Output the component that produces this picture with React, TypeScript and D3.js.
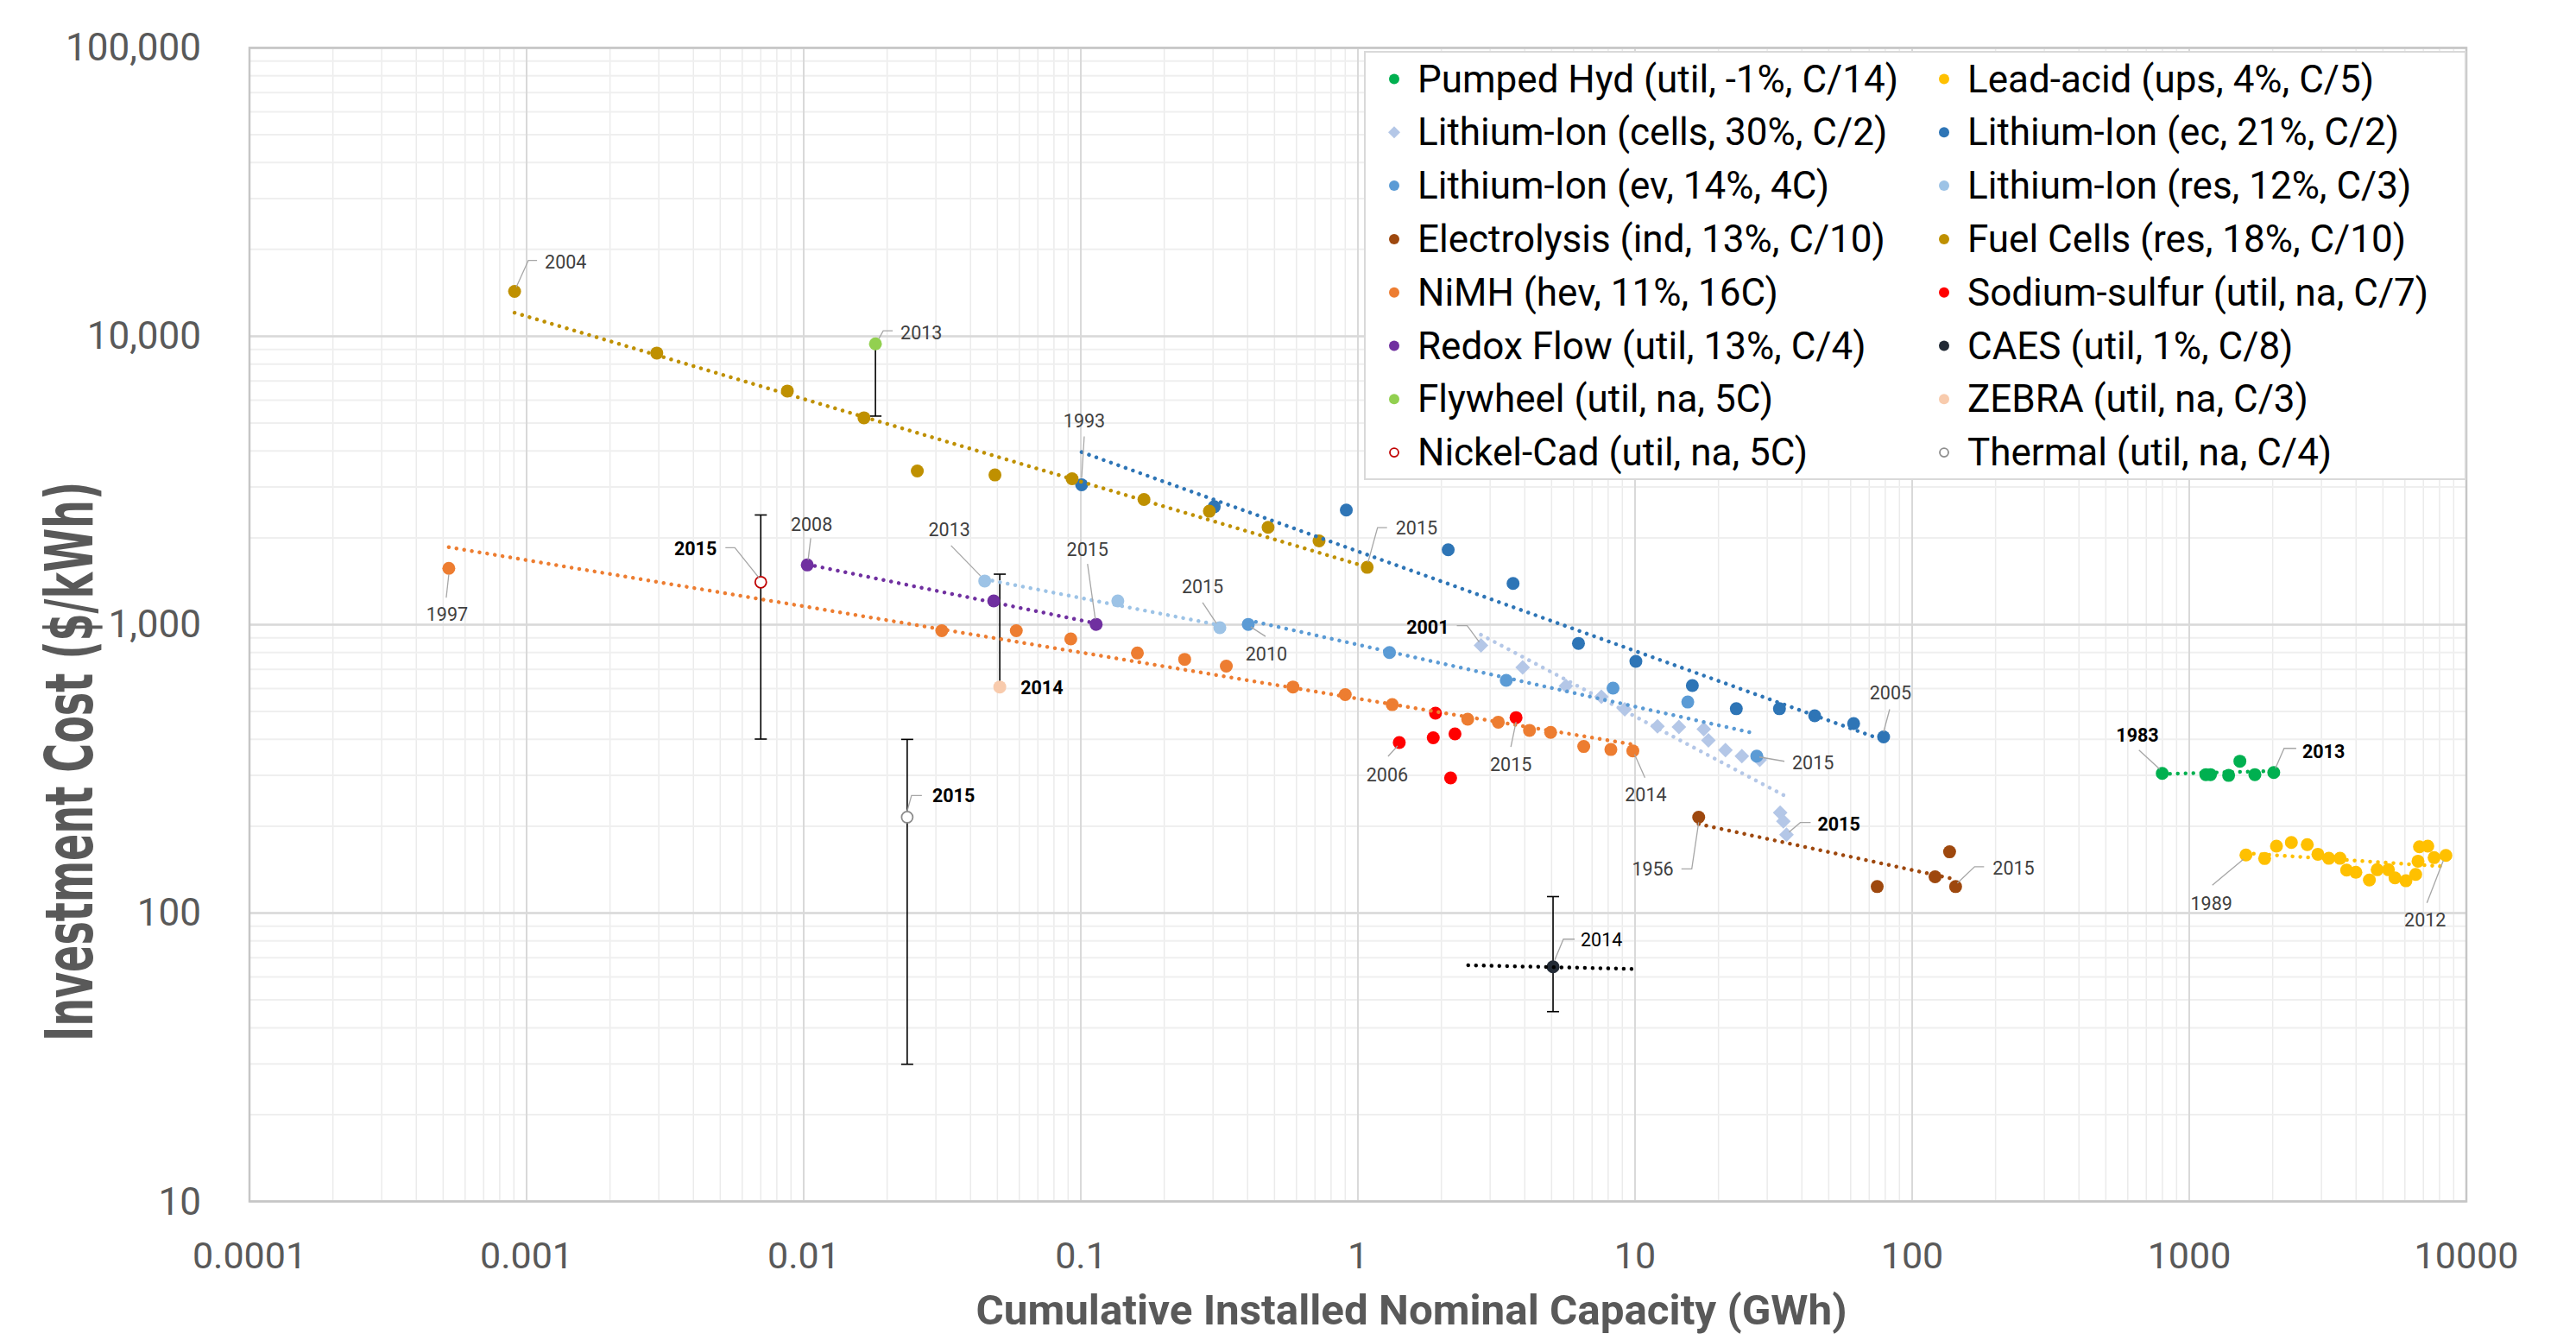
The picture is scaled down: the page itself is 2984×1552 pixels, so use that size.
import React from 'react';
import * as d3 from 'd3';

const width = 2984;
const height = 1552;
const plotLeft = 289;
const plotRight = 2857;
const plotTop = 55.4;
const plotBottom = 1391.5;

// axis ticks
const xTickValues = [0.0001, 0.001, 0.01, 0.1, 1, 10, 100, 1000, 10000];
const xTickLabels = ['0.0001', '0.001', '0.01', '0.1', '1', '10', '100', '1000', '10000'];
const yTickValues = [10, 100, 1000, 10000, 100000];
const yTickLabels = ['10', '100', '1,000', '10,000', '100,000'];

// series values: cumulative capacity (GWh) and cost ($/kWh)
const pumpedHydX = [799, 1148, 1193, 1387, 1523, 1725, 2018];
const pumpedHydY = [305, 302, 302, 300, 336, 302, 307];

const leadAcidX = [1602, 1871, 2064, 2336, 2666, 2912, 3189, 3500, 3698, 3993, 4467, 4766, 5233, 5526, 6053, 6564, 6691, 6773, 7257, 7650, 8436];
const leadAcidY = [159, 154.5, 170.6, 175.7, 172.6, 159.9, 154.8, 154.8, 140.9, 138.4, 130.1, 141.3, 141.3, 132.4, 129.4, 136.1, 151.3, 169.7, 170.6, 155.6, 158.4];

const liCellsX = [2.78, 3.93, 5.63, 7.56, 9.18, 12.05, 14.4, 17.7, 18.4, 21.2, 24.3, 28.2, 33.4, 34.3, 35.2];
const liCellsY = [847, 711, 613, 562, 509, 444, 442, 434, 397, 367, 350, 340, 223, 208, 187];

const liEcX = [0.1007, 0.303, 0.908, 2.117, 3.63, 6.25, 10.07, 16.1, 23.2, 33.2, 44.5, 61.5, 78.9];
const liEcY = [3055, 2564, 2496, 1817, 1390, 861, 746, 615, 511, 511, 483, 454, 408];

const liEvX = [0.402, 1.3, 3.43, 8.33, 15.5, 27.5];
const liEvY = [1002, 800, 641, 602, 539, 350];

const liResX = [0.045, 0.136, 0.3175];
const liResY = [1417, 1208, 976];

const electrolysisX = [16.97, 74.8, 121, 136.5, 143.5];
const electrolysisY = [215, 123.5, 133.6, 163, 123.5];

const fuelCellsX = [0.000905, 0.00295, 0.00873, 0.0165, 0.0257, 0.049, 0.093, 0.169, 0.291, 0.474, 0.724, 1.08];
const fuelCellsY = [14300, 8743, 6457, 5213, 3411, 3304, 3206, 2715, 2473, 2175, 1951, 1580];

const nimhX = [0.000524, 0.0315, 0.0585, 0.092, 0.16, 0.237, 0.335, 0.583, 0.9, 1.33, 2.49, 3.21, 4.16, 4.96, 6.53, 8.18, 9.82];
const nimhY = [1567, 953, 953, 892, 797, 758, 718, 608, 572, 528, 470, 459, 430, 423, 378, 369, 365];

const sodiumX = [1.41, 1.87, 1.905, 2.16, 2.24, 3.72];
const sodiumY = [390, 405, 493, 294, 418, 476];

const redoxX = [0.0103, 0.0485, 0.1136];
const redoxY = [1610, 1208, 1002];

const caesX = [5.06];
const caesY = [65.1];
const caesLow = [45.5];
const caesHigh = [114];
const caesTrendX = [2.5, 9.8];
const caesTrendY = [65.9, 64.0];

const flywheelX = [0.01815];
const flywheelY = [9414];
const flywheelLow = [5285];

const zebraX = [0.051];
const zebraY = [608];
const zebraHigh = [1496];

const nicadX = [0.007];
const nicadY = [1403];
const nicadLow = [401];
const nicadHigh = [2400];

const thermalX = [0.02363];
const thermalY = [215];
const thermalLow = [29.9];
const thermalHigh = [400];

type Series = {
  key: string;
  name: string;
  xs: number[];
  ys: number[];
  color: string;
  shape?: 'circle' | 'diamond' | 'open';
  trend?: boolean;
  low?: number[];
  high?: number[];
};

const series: Series[] = [
  { key: 'pumped', name: 'Pumped Hyd (util, -1%, C/14)', xs: pumpedHydX, ys: pumpedHydY, color: '#00B050', trend: true },
  { key: 'lead', name: 'Lead-acid (ups, 4%, C/5)', xs: leadAcidX, ys: leadAcidY, color: '#FFC000', trend: true },
  { key: 'cells', name: 'Lithium-Ion (cells, 30%, C/2)', xs: liCellsX, ys: liCellsY, color: '#B4C7E7', shape: 'diamond', trend: true },
  { key: 'ec', name: 'Lithium-Ion (ec, 21%, C/2)', xs: liEcX, ys: liEcY, color: '#2E75B6', trend: true },
  { key: 'ev', name: 'Lithium-Ion (ev, 14%, 4C)', xs: liEvX, ys: liEvY, color: '#5B9BD5', trend: true },
  { key: 'res', name: 'Lithium-Ion (res, 12%, C/3)', xs: liResX, ys: liResY, color: '#9DC3E6', trend: true },
  { key: 'elec', name: 'Electrolysis (ind, 13%, C/10)', xs: electrolysisX, ys: electrolysisY, color: '#9E480E', trend: true },
  { key: 'fuel', name: 'Fuel Cells (res, 18%, C/10)', xs: fuelCellsX, ys: fuelCellsY, color: '#BF9000', trend: true },
  { key: 'nimh', name: 'NiMH (hev, 11%, 16C)', xs: nimhX, ys: nimhY, color: '#ED7D31', trend: true },
  { key: 'nas', name: 'Sodium-sulfur (util, na, C/7)', xs: sodiumX, ys: sodiumY, color: '#FF0000' },
  { key: 'redox', name: 'Redox Flow (util, 13%, C/4)', xs: redoxX, ys: redoxY, color: '#7030A0', trend: true },
  { key: 'caes', name: 'CAES (util, 1%, C/8)', xs: caesX, ys: caesY, color: '#222A35', low: caesLow, high: caesHigh },
  { key: 'fly', name: 'Flywheel (util, na, 5C)', xs: flywheelX, ys: flywheelY, color: '#92D050', low: flywheelLow },
  { key: 'zebra', name: 'ZEBRA (util, na, C/3)', xs: zebraX, ys: zebraY, color: '#F8CBAD', high: zebraHigh },
  { key: 'nicad', name: 'Nickel-Cad (util, na, 5C)', xs: nicadX, ys: nicadY, color: '#C00000', shape: 'open', low: nicadLow, high: nicadHigh },
  { key: 'thermal', name: 'Thermal (util, na, C/4)', xs: thermalX, ys: thermalY, color: '#8C8C8C', shape: 'open', low: thermalLow, high: thermalHigh },
];

// data labels: point reference, text offset and leader line (pixels from the point)
const labels = [
  { s: 'fuel', i: 0, t: '2004', dx: 35, dy: -27, a: 'start', lead: [[2, -5], [16, -36], [26, -36]] },
  { s: 'fly', i: 0, t: '2013', dx: 29, dy: -5, a: 'start', lead: [[4, -6], [9, -15], [20, -15]] },
  { s: 'ec', i: 0, t: '1993', dx: 3, dy: -66, a: 'middle', lead: [[0, -8], [3, -56]] },
  { s: 'nimh', i: 0, t: '1997', dx: -2, dy: 61, a: 'middle', lead: [[0, 7], [-3, 34]] },
  { s: 'nicad', i: 0, t: '2015', dx: -51, dy: -31, a: 'end', bold: true, lead: [[-2, -5], [-30, -40], [-41, -40]] },
  { s: 'redox', i: 0, t: '2008', dx: 5, dy: -39, a: 'middle', lead: [[1, -6], [4, -31]] },
  { s: 'res', i: 0, t: '2013', dx: -41, dy: -52, a: 'middle', lead: [[-5, -6], [-39, -41]] },
  { s: 'redox', i: 2, t: '2015', dx: -10, dy: -79, a: 'middle', lead: [[-1, -6], [-10, -70]] },
  { s: 'res', i: 2, t: '2015', dx: -20, dy: -40, a: 'middle', lead: [[-4, -5], [-20, -29]] },
  { s: 'ev', i: 0, t: '2010', dx: 21, dy: 42, a: 'middle', lead: [[3, 3], [20, 14]] },
  { s: 'zebra', i: 0, t: '2014', dx: 24, dy: 8, a: 'start', bold: true, lead: [] },
  { s: 'thermal', i: 0, t: '2015', dx: 29, dy: -17, a: 'start', bold: true, lead: [[0, -7], [5, -25], [17, -25]] },
  { s: 'fuel', i: 11, t: '2015', dx: 33, dy: -38, a: 'start', lead: [[1, -6], [12, -46], [23, -46]] },
  { s: 'cells', i: 0, t: '2001', dx: -37, dy: -14, a: 'end', bold: true, lead: [[-2, -4], [-16, -23], [-28, -23]] },
  { s: 'nas', i: 0, t: '2006', dx: -14, dy: 45, a: 'middle', lead: [[-2, 4], [-13, 16]] },
  { s: 'nas', i: 5, t: '2015', dx: -6, dy: 62, a: 'middle', lead: [[0, 5], [-6, 34]] },
  { s: 'nimh', i: 16, t: '2014', dx: 15, dy: 58, a: 'middle', lead: [[2, 4], [14, 31]] },
  { s: 'elec', i: 0, t: '1956', dx: -29, dy: 68, a: 'end', lead: [[0, 6], [-8, 60], [-20, 60]] },
  { s: 'ev', i: 5, t: '2015', dx: 41, dy: 15, a: 'start', lead: [[3, 1], [32, 6]] },
  { s: 'cells', i: 14, t: '2015', dx: 36, dy: -5, a: 'start', bold: true, lead: [[3, -3], [16, -14], [28, -14]] },
  { s: 'ec', i: 12, t: '2005', dx: 8, dy: -43, a: 'middle', lead: [[0, -6], [7, -32]] },
  { s: 'elec', i: 4, t: '2015', dx: 43, dy: -14, a: 'start', lead: [[2, -4], [22, -23], [33, -23]] },
  { s: 'pumped', i: 0, t: '1983', dx: -4, dy: -37, a: 'end', bold: true, lead: [[-3, -5], [-27, -27]] },
  { s: 'pumped', i: 6, t: '2013', dx: 33, dy: -17, a: 'start', bold: true, lead: [[2, -5], [12, -28], [26, -28]] },
  { s: 'lead', i: 0, t: '1989', dx: -40, dy: 64, a: 'middle', lead: [[-3, 5], [-39, 35]] },
  { s: 'lead', i: 20, t: '2012', dx: -24, dy: 82, a: 'middle', lead: [[-3, 6], [-22, 55]] },
  { s: 'caes', i: 0, t: '2014', dx: 32, dy: -24, a: 'start', dark: true, lead: [[2, -8], [12, -32], [25, -32]] },
];

const x = d3.scaleLog().domain([1e-4, 1e4]).range([plotLeft, plotRight]);
const y = d3.scaleLog().domain([10, 1e5]).range([plotBottom, plotTop]);

// least squares in log-log space, like a power trendline
const fitPower = (xs: number[], ys: number[]) => {
  const lx = xs.map(Math.log10);
  const ly = ys.map(Math.log10);
  const mx = d3.mean(lx) as number;
  const my = d3.mean(ly) as number;
  let sxy = 0;
  let sxx = 0;
  lx.forEach((v, i) => {
    sxy += (v - mx) * (ly[i] - my);
    sxx += (v - mx) * (v - mx);
  });
  const b = sxy / sxx;
  const a = my - b * mx;
  const x0 = d3.min(xs) as number;
  const x1 = d3.max(xs) as number;
  return [
    [x0, Math.pow(10, a + b * Math.log10(x0))],
    [x1, Math.pow(10, a + b * Math.log10(x1))],
  ];
};

const line = d3
  .line<number[]>()
  .x((d) => x(d[0]))
  .y((d) => y(d[1]));

const font = 'Roboto, "Open Sans", sans-serif';

const Marker = ({ s, cx, cy, r }: { s: Series; cx: number; cy: number; r: number }) => {
  if (s.shape === 'diamond') {
    const d = r + 1;
    return <path d={`M${cx},${cy - d}L${cx + d},${cy}L${cx},${cy + d}L${cx - d},${cy}Z`} fill={s.color} />;
  }
  if (s.shape === 'open') {
    return <circle cx={cx} cy={cy} r={r - 1} fill="white" stroke={s.color} strokeWidth={1.8} />;
  }
  return <circle cx={cx} cy={cy} r={r} fill={s.color} />;
};

const App = () => {
  const xMinor = x.ticks();
  const yMinor = y.ticks();
  const byKey: Record<string, Series> = {};
  series.forEach((s) => (byKey[s.key] = s));

  return (
    <svg width={width} height={height} style={{ position: 'absolute', left: 0, top: 0, background: 'white' }}>
      <rect width={width} height={height} fill="white" />
      {/* grid */}
      <g>
        {xMinor.map((t, i) => (
          <line key={'xm' + i} x1={x(t)} x2={x(t)} y1={plotTop} y2={plotBottom} stroke="#EBEBEB" strokeWidth={1.5} />
        ))}
        {yMinor.map((t, i) => (
          <line key={'ym' + i} x1={plotLeft} x2={plotRight} y1={y(t)} y2={y(t)} stroke="#EFEFEF" strokeWidth={2} />
        ))}
        {xTickValues.map((t, i) => (
          <line key={'xM' + i} x1={x(t)} x2={x(t)} y1={plotTop} y2={plotBottom} stroke="#D9D9D9" strokeWidth={2} />
        ))}
        {yTickValues.map((t, i) => (
          <line key={'yM' + i} x1={plotLeft} x2={plotRight} y1={y(t)} y2={y(t)} stroke="#D9D9D9" strokeWidth={2.5} />
        ))}
        <rect x={plotLeft} y={plotTop} width={plotRight - plotLeft} height={plotBottom - plotTop} fill="none" stroke="#C6C6C6" strokeWidth={2.5} />
      </g>

      {/* tick labels */}
      {yTickValues.map((t, i) => (
        <text key={'yl' + i} x={233} y={y(t) + 15} textAnchor="end" fontFamily={font} fontSize={44} fill="#595959">
          {yTickLabels[i]}
        </text>
      ))}
      {xTickValues.map((t, i) => (
        <text key={'xl' + i} x={x(t)} y={1469} textAnchor="middle" fontFamily={font} fontSize={43} fill="#595959">
          {xTickLabels[i]}
        </text>
      ))}

      {/* axis titles */}
      <text x={1635} y={1534} textAnchor="middle" fontFamily={font} fontWeight="bold" fontSize={48} fill="#595959" textLength={1009} lengthAdjust="spacingAndGlyphs">
        Cumulative Installed Nominal Capacity (GWh)
      </text>
      <text transform="translate(107,882) rotate(-90)" textAnchor="middle" fontFamily='"DejaVu Sans", sans-serif' fontWeight="bold" fontSize={76} fill="#595959" textLength={648} lengthAdjust="spacingAndGlyphs">
        Investment Cost ($/kWh)
      </text>

      {/* error bars */}
      {series
        .filter((s) => s.low || s.high)
        .map((s) =>
          s.xs.map((xv, i) => {
            const cx = x(xv);
            const top = s.high ? y(s.high[i]) : y(s.ys[i]);
            const bot = s.low ? y(s.low[i]) : y(s.ys[i]);
            return (
              <g key={'eb' + s.key + i} stroke="#000" strokeWidth={1.6}>
                <line x1={cx} x2={cx} y1={top} y2={bot} />
                {s.high && <line x1={cx - 7} x2={cx + 7} y1={top} y2={top} />}
                {s.low && <line x1={cx - 7} x2={cx + 7} y1={bot} y2={bot} />}
              </g>
            );
          })
        )}

      {/* markers */}
      {series.map((s) =>
        s.xs.map((xv, i) => <Marker key={'m' + s.key + i} s={s} cx={x(xv)} cy={y(s.ys[i])} r={7.5} />)
      )}

      {/* trend lines */}
      {series
        .filter((s) => s.trend)
        .map((s) => (
          <path key={'tr' + s.key} d={line(fitPower(s.xs, s.ys)) || ''} fill="none" stroke={s.color} strokeWidth={4.5} strokeDasharray="0.01 9" strokeLinecap="round" />
        ))}
      <path d={line(caesTrendX.map((v, i) => [v, caesTrendY[i]])) || ''} fill="none" stroke="#000" strokeWidth={4.5} strokeDasharray="0.01 9" strokeLinecap="round" />

      {/* data labels */}
      {labels.map((l, k) => {
        const s = byKey[l.s];
        const px = x(s.xs[l.i]);
        const py = y(s.ys[l.i]);
        const pts = l.lead.map((p) => [px + p[0], py + p[1]]);
        return (
          <g key={'lb' + k}>
            {pts.length > 1 && (
              <polyline points={pts.map((p) => p.join(',')).join(' ')} fill="none" stroke="#A6A6A6" strokeWidth={1.3} />
            )}
            <text
              x={px + l.dx}
              y={py + l.dy}
              textAnchor={l.a}
              fontFamily={font}
              fontSize={21.5}
              fontWeight={l.bold ? 'bold' : 'normal'}
              fill={l.bold || l.dark ? '#000' : '#404040'}
            >
              {l.t}
            </text>
          </g>
        );
      })}

      {/* legend */}
      <g>
        <rect x={1581} y={60} width={1275} height={495} fill="white" stroke="#D9D9D9" strokeWidth={2} />
        {series.map((s, i) => {
          const col = i % 2;
          const row = Math.floor(i / 2);
          const mx = col === 0 ? 1615 : 2252;
          const cy = 91.5 + row * 61.8;
          return (
            <g key={'lg' + s.key}>
              <Marker s={s} cx={mx} cy={cy} r={6} />
              <text x={mx + 27} y={cy + 15} fontFamily={font} fontSize={44} fill="#000">
                {s.name}
              </text>
            </g>
          );
        })}
      </g>
    </svg>
  );
};

export default App;
